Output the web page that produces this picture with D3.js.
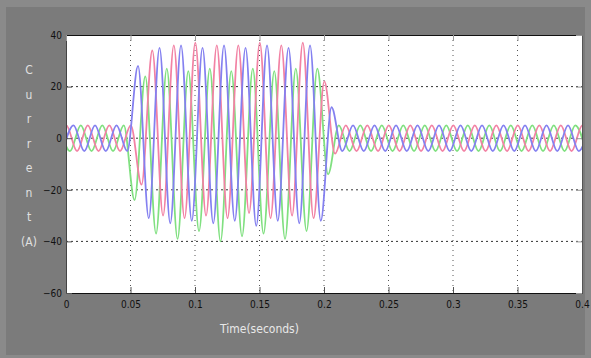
<!DOCTYPE html>
<html>
<head>
<meta charset="utf-8">
<script src="https://cdn.jsdelivr.net/npm/d3@7"></script>
<style>
  html, body { margin: 0; padding: 0; background: #8a8a8a; }
  svg { display: block; }
  .tick-label { font-family: "Liberation Sans Narrow", "DejaVu Sans Condensed", sans-serif; font-size: 10px; fill: #111; }
</style>
</head>
<body>
<div id="chart"></div>
<script>
// axis ticks
var xTicks = [0, 0.05, 0.1, 0.15, 0.2, 0.25, 0.3, 0.35, 0.4];
var xTickLabels = ["0", "0.05", "0.1", "0.15", "0.2", "0.25", "0.3", "0.35", "0.4"];
var yTicks = [40, 20, 0, -20, -40, -60];
var yLabelLetters = ["C", "u", "r", "r", "e", "n", "t", "(A)"];

// 60 Hz supply, one extreme every half cycle
var freq = 60;
var halfPeriod = 1 / (2 * freq);

// time of the first extreme of each phase (seconds)
var startA = -0.0081, startB = -0.0025, startC = -0.0052;

// peak / trough values (A), one per half cycle
var phaseA = [-5, 5, -5, 5, -5, 5, -5, 5,
  -18, 34, -30, 36, -31, 37, -30, 36, -31, 36, -29, 37, -31, 36, -30, 37, -31, 22,
  -6, 5, -5, 5, -5, 5, -5, 5, -5, 5, -5, 5, -5, 5, -5, 5, -5, 5, -5, 5, -5, 5, -5, 5, -5];
var phaseB = [-5, 5, -5, 5, -5, 5, -5,
  28, -31, 35, -33, 36, -32, 35, -33, 36, -32, 35, -34, 36, -32, 35, -33, 36, -32, 12,
  -5, 5, -5, 5, -5, 5, -5, 5, -5, 5, -5, 5, -5, 5, -5, 5, -5, 5, -5, 5, -5, 5, -5, 5];
var phaseC = [5, -5, 5, -5, 5, -5, 5,
  -24, 24, -37, 27, -39, 26, -36, 27, -40, 26, -38, 27, -37, 26, -39, 27, -36, 27, -14,
  5, -5, 5, -5, 5, -5, 5, -5, 5, -5, 5, -5, 5, -5, 5, -5, 5, -5, 5, -5, 5, -5, 5, -5];

var series = [
  {name: "C", start: startC, values: phaseC, color: "#80e080"},
  {name: "A", start: startA, values: phaseA, color: "#f282a4"},
  {name: "B", start: startB, values: phaseB, color: "#8480f0"}
];

function drawChart() {
  var W = 591, H = 358;
  var margin = {top: 35, right: 9, bottom: 65, left: 66};
  var width = W - margin.left - margin.right,
      height = H - margin.top - margin.bottom;

  var svg = d3.select("#chart").append("svg")
      .attr("width", W)
      .attr("height", H);

  // grey figure background with a lighter frame
  svg.append("rect").attr("width", W).attr("height", H).attr("fill", "#8a8a8a");
  svg.append("rect").attr("x", 6).attr("y", 7).attr("width", W - 12).attr("height", H - 10)
      .attr("fill", "#7b7b7b");

  var g = svg.append("g")
      .attr("transform", "translate(" + margin.left + "," + margin.top + ")");

  var x = d3.scaleLinear().domain([0, 0.4]).range([0, width]);
  var y = d3.scaleLinear().domain([-60, 40]).range([height, 0]);

  g.append("rect").attr("width", width).attr("height", height).attr("fill", "#fff");

  // dotted grid
  g.append("g").selectAll("line")
    .data(xTicks.slice(1, -1)).enter().append("line")
      .attr("x1", function(d) { return x(d); }).attr("x2", function(d) { return x(d); })
      .attr("y1", 0).attr("y2", height)
      .attr("stroke", "#555").attr("stroke-width", 1)
      .attr("stroke-dasharray", "1,4");
  g.append("g").selectAll("line")
    .data(yTicks.slice(1, -1)).enter().append("line")
      .attr("x1", 0).attr("x2", width)
      .attr("y1", function(d) { return y(d); }).attr("y2", function(d) { return y(d); })
      .attr("stroke", "#333").attr("stroke-width", 1)
      .attr("stroke-dasharray", "2,3");

  // waveforms
  g.append("clipPath").attr("id", "plotclip")
    .append("rect").attr("width", width).attr("height", height);

  var line = d3.line()
      .x(function(d) { return x(d.t); })
      .y(function(d) { return y(d.v); })
      .curve(d3.curveMonotoneX);

  series.forEach(function(s) {
    var pts = s.values.map(function(v, i) { return {t: s.start + i * halfPeriod, v: v}; });
    g.append("path")
      .datum(pts)
      .attr("clip-path", "url(#plotclip)")
      .attr("fill", "none")
      .attr("stroke", s.color)
      .attr("stroke-width", 1.8)
      .attr("d", line);
  });

  // axes, ticks inside like the scope
  var xAxis = g.append("g")
      .attr("transform", "translate(0," + height + ")")
      .call(d3.axisBottom(x).tickValues(xTicks)
        .tickFormat(function(d, i) { return xTickLabels[i]; })
        .tickSizeInner(-6).tickSizeOuter(0).tickPadding(8));
  xAxis.select(".domain").attr("stroke", "#111");
  xAxis.selectAll("line").attr("stroke", "#555");
  xAxis.selectAll("text").attr("class", "tick-label");

  var yAxis = g.append("g")
      .call(d3.axisLeft(y).tickValues(yTicks)
        .tickSizeInner(-6).tickSizeOuter(0).tickPadding(4));
  yAxis.select(".domain").attr("stroke", "#444");
  yAxis.selectAll("line").attr("stroke", "#555");
  yAxis.selectAll("text").attr("class", "tick-label");

  g.append("g").call(d3.axisTop(x).tickValues(xTicks).tickFormat("")
      .tickSizeInner(-6).tickSizeOuter(0))
    .call(function(a) { a.select(".domain").attr("stroke", "#111"); a.selectAll("line").attr("stroke", "#999"); });
  g.append("g").attr("transform", "translate(" + width + ",0)")
    .call(d3.axisRight(y).tickValues(yTicks).tickFormat("")
      .tickSizeInner(-6).tickSizeOuter(0))
    .call(function(a) { a.select(".domain").attr("stroke", "#555"); a.selectAll("line").attr("stroke", "#999"); });

  // y title, one letter per row
  svg.append("g").selectAll("text")
    .data(yLabelLetters).enter().append("text")
      .attr("x", 29)
      .attr("y", function(d, i) { return 74 + i * 24.5; })
      .attr("text-anchor", "middle")
      .style("font-family", "\"Liberation Sans Narrow\", \"DejaVu Sans Condensed\", sans-serif")
      .style("font-size", "12px")
      .attr("fill", "#e0e0e0")
      .text(function(d) { return d; });

  // x title
  svg.append("text")
    .attr("x", margin.left + x(0.15))
    .attr("y", 333)
    .attr("text-anchor", "middle")
    .style("font-family", "\"Liberation Sans Narrow\", \"DejaVu Sans Condensed\", sans-serif")
    .style("font-size", "12px")
    .attr("fill", "#e8e8e8")
    .text("Time(seconds)");
}

drawChart();
</script>
</body>
</html>
